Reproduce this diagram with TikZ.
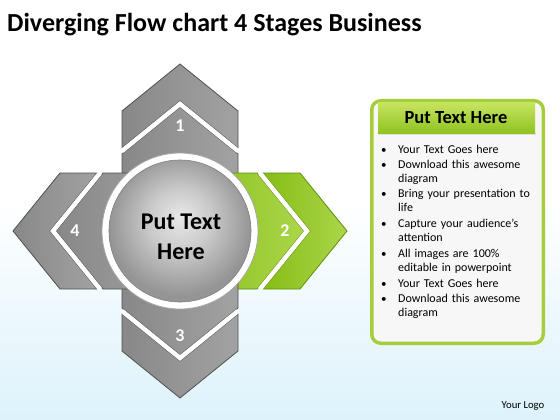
\documentclass[tikz,border=0pt]{standalone}
\usepackage{fontspec}
\setmainfont{Carlito}
\usetikzlibrary{positioning}

\definecolor{bgblue}{HTML}{DDF2FB}
\definecolor{armgray}{HTML}{888888}
\definecolor{armgraylight}{HTML}{A2A2A2}
\definecolor{armgraydark}{HTML}{505050}
\definecolor{armgreen}{HTML}{86BD16}
\definecolor{armgreenlight}{HTML}{ABD64A}
\definecolor{armgreendark}{HTML}{5F8E0C}
\definecolor{panelgreen}{HTML}{A6CE3C}
\definecolor{panelfill}{HTML}{F7F7F7}
\definecolor{headtop}{HTML}{C6E35E}
\definecolor{headbottom}{HTML}{8FC322}
\definecolor{hublight}{HTML}{E8E8E8}
\definecolor{hubmid}{HTML}{CACACA}
\definecolor{hubdark}{HTML}{959595}

\pgfdeclareradialshading{hubshade}{\pgfpoint{0bp}{5bp}}{color(0bp)=(hublight);
  color(11bp)=(hubmid); color(25bp)=(hubdark); color(50bp)=(hubdark)}

\tikzset{
  armpiece/.style={line width=0.8pt, line join=miter},
  numlabel/.style={text=white, font=\bfseries\fontsize{18}{20}\selectfont},
  bulletline/.style={anchor=base west, text width=145pt, align=left,
    font=\fontsize{12}{14.9}\selectfont}
}

\begin{document}
\begin{tikzpicture}[x=1pt, y=-1pt, every node/.style={inner sep=0pt}]
    % Background
    \useasboundingbox (0,0) rectangle (560,420);
    \fill[white] (0,0) rectangle (560,420);
    \shade[top color=white, bottom color=bgblue] (0,200) rectangle (560,420);

    % Title
    \node[anchor=base west, font=\bfseries\fontsize{26}{30}\selectfont] (title) at (7,32)
        {Diverging Flow chart 4 Stages Business};

    % Four arms (top, right, bottom, left)
    \foreach \ang/\num/\cola/\colb/\edge in {90/1/armgray/armgraylight/armgraydark,
        0/2/armgreen/armgreenlight/armgreendark,
        270/3/armgray/armgraylight/armgraydark,
        180/4/armgray/armgraylight/armgraydark}{
      \begin{scope}[shift={(180,231)}, rotate=\ang]
        \shade[armpiece, draw=\edge, left color=\cola, right color=\colb]
            (0,-58) -- (77,-58) -- (124,0) -- (77,58) -- (0,58) -- cycle;
        \shade[armpiece, draw=\edge, left color=\cola, right color=\colb]
            (83,-58) -- (120,-58) -- (167,0) -- (120,58) -- (83,58) -- (130,0) -- cycle;
        \draw[white, line width=4.5pt, line join=miter] (80,-58) -- (127,0) -- (80,58);
        \node[numlabel] (num\num) at (105,0) {\num};
      \end{scope}
    }

    % Centre circle
    \draw[gray!70, line width=0.8pt, fill=white] (180,231) circle (78);
    \shade[shading=hubshade] (180,231) circle (71);
    \draw[gray, line width=0.6pt] (180,231) circle (71);
    \node[align=center, font=\bfseries\fontsize{24}{30}\selectfont] (hub) at (181,237)
        {Put Text\\Here};

    % Text panel
    \draw[panelgreen, line width=3.5pt, fill=panelfill, rounded corners=9pt]
        (371.75,100.75) rectangle (543.25,343.25);
    \fill[gray!25] (379,133) rectangle (536,135);
    \shade[top color=headtop, bottom color=headbottom] (378,103) rectangle (535,133);
    \node[font=\bfseries\fontsize{18.5}{20}\selectfont] (header) at (456,118) {Put Text Here};

    \foreach \yy/\txt [count=\i] in {153/{Your Text Goes here},
        168/{Download this awesome\\diagram},
        197/{Bring your presentation to\\life},
        227/{Capture your audience’s\\attention},
        257/{All images are 100\%\\editable in powerpoint},
        287/{Your Text Goes here},
        302/{Download this awesome\\diagram}}{
      \node[bulletline] (item\i) at (398,\yy) {\txt};
      \node[anchor=base west, font=\fontsize{11}{14.9}\selectfont] (dot\i) at (381,\yy) {\textbullet};
    }

    % Logo
    \node[font=\fontsize{10.7}{12}\selectfont] (logo) at (523,406) {Your Logo};
\end{tikzpicture}
\end{document}
